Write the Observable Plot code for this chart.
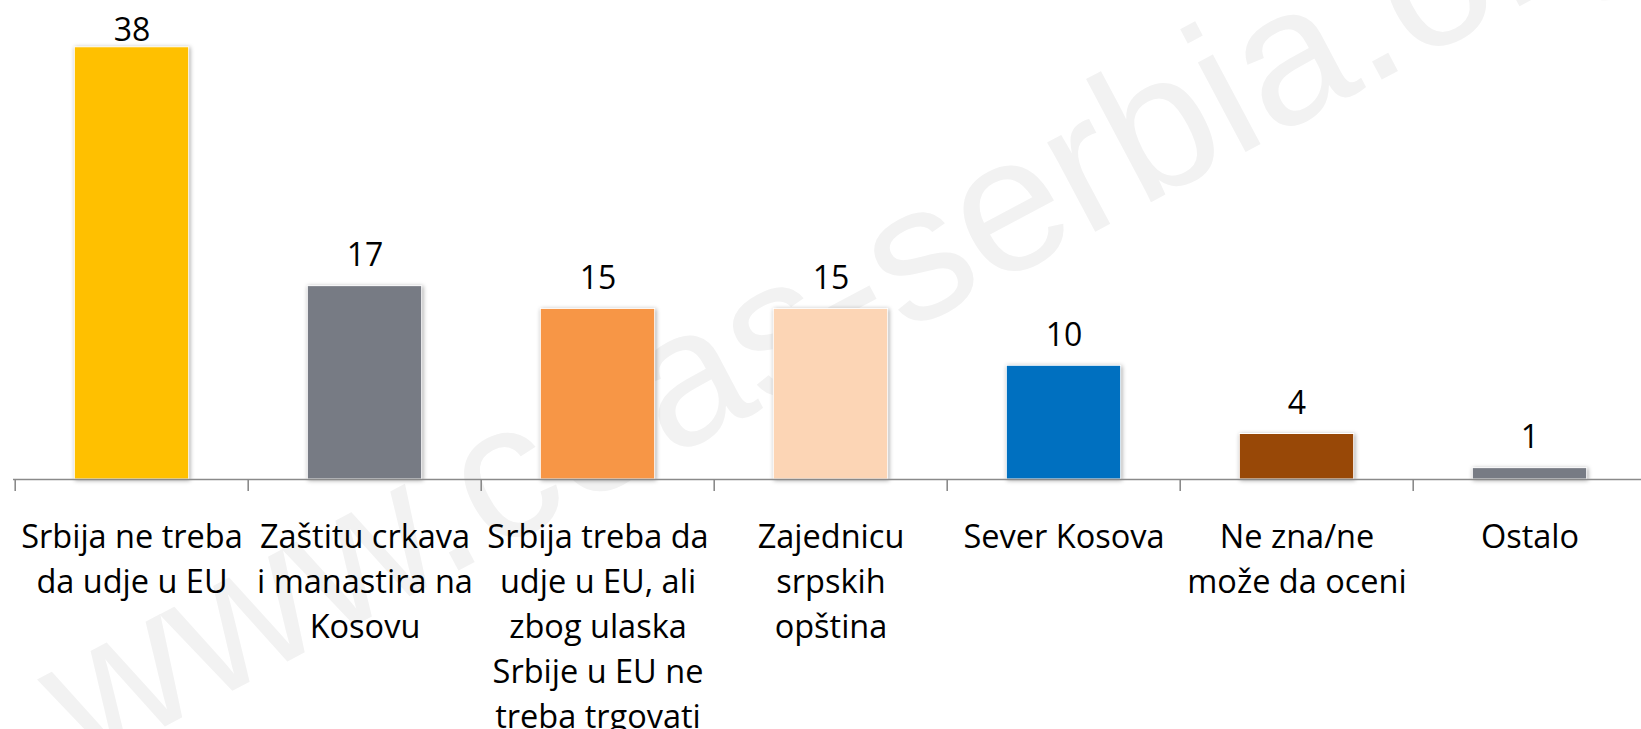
<!DOCTYPE html>
<html>
<head>
<meta charset="utf-8">
<script src="https://cdn.jsdelivr.net/npm/d3@7"></script>
<script src="https://cdn.jsdelivr.net/npm/@observablehq/plot@0.6"></script>
<style>
  html, body { margin: 0; padding: 0; background: #fff; overflow: hidden; }
  #chart { width: 1641px; height: 729px; overflow: hidden; }
  g[aria-label="bar"] rect { filter: drop-shadow(1px 1px 2px rgba(0,0,0,0.35)); }
</style>
</head>
<body>
<div id="chart"></div>
<script>
// ---- data ----
const categories = [
  "Srbija ne treba\nda udje u EU",
  "Zaštitu crkava\ni manastira na\nKosovu",
  "Srbija treba da\nudje u EU, ali\nzbog ulaska\nSrbije u EU ne\ntreba trgovati",
  "Zajednicu\nsrpskih\nopština",
  "Sever Kosova",
  "Ne zna/ne\nmože da oceni",
  "Ostalo"
];
const values = [38, 17, 15, 15, 10, 4, 1];
const colors = ["#FFC000", "#777B84", "#F79646", "#FCD5B5", "#0070C0", "#984807", "#777B84"];
const watermark = "www.ceas-serbia.org";

const rows = categories.map((c, i) => ({category: c, value: values[i], color: colors[i]}));
const maxValue = d3.max(values);

// ---- layout ----
const W = 1650, H = 729;
const mL = 13, mR = 2;
const step = (W - mL - mR) / categories.length;
const barInset = (step - 115) / 2;
const axisColor = "#8a8a8a";

const chart = Plot.plot({
  width: W,
  height: H,
  marginTop: 24,
  marginBottom: 250,
  marginLeft: mL,
  marginRight: mR,
  style: {fontFamily: "'Open Sans', sans-serif", fontSize: "32.5px", color: "#000", background: "transparent", overflow: "visible", maxWidth: "none"},
  x: {domain: categories, padding: 0},
  y: {domain: [0, 40], axis: null},
  marks: [
    Plot.barY(rows, {x: "category", y: "value", fill: "color", insetLeft: barInset, insetRight: barInset, stroke: "#ffffff", strokeWidth: 1}),
    Plot.ruleY([0], {stroke: axisColor, strokeWidth: 1.6}),
    Plot.axisX({tickSize: 12, tickFormat: () => "", dx: -step / 2, stroke: axisColor, strokeWidth: 1.6, label: null}),
    Plot.axisX({tickSize: 0, tickPadding: 37, lineHeight: 1.38, fontSize: 32.5, fill: "#000", label: null}),
    Plot.text(rows.filter(d => d.value < maxValue), {x: "category", y: "value", text: d => String(d.value), dy: -30, fontSize: 32, fill: "#000"}),
    Plot.text(rows.filter(d => d.value === maxValue), {x: "category", y: "value", text: d => String(d.value), dy: -17, fontSize: 32, fill: "#000"})
  ]
});
chart.style.maxWidth = "none";

// watermark (decoration) beneath the marks
const ns = "http://www.w3.org/2000/svg";
const wm = document.createElementNS(ns, "text");
wm.setAttribute("transform", "translate(85,769) rotate(-28)");
wm.setAttribute("font-family", "'Liberation Sans', Arial, sans-serif");
wm.setAttribute("font-size", "192");
wm.setAttribute("text-anchor", "start");
wm.setAttribute("fill", "#f2f2f2");
wm.textContent = watermark;
const firstG = chart.querySelector("g");
chart.insertBefore(wm, firstG);

document.getElementById("chart").appendChild(chart);
</script>
</body>
</html>
